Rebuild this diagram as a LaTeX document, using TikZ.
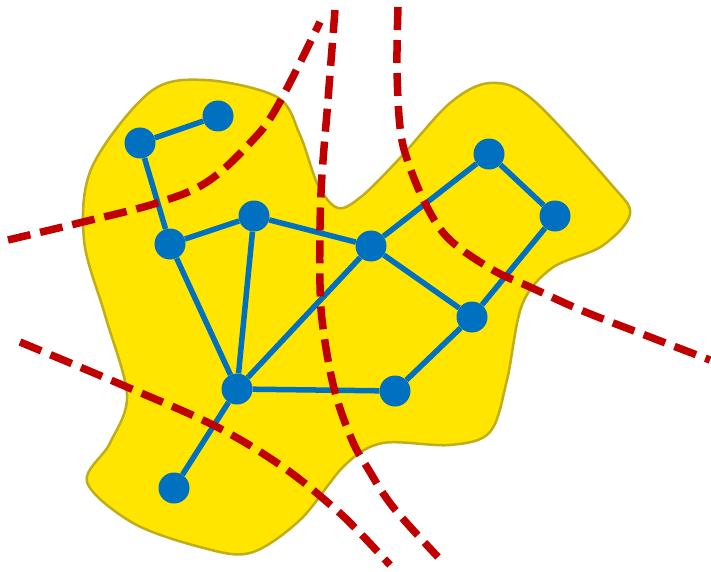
\documentclass[tikz,border=0pt]{standalone}
\usetikzlibrary{backgrounds}
\definecolor{blobfill}{HTML}{FFE500}
\definecolor{blobline}{HTML}{BFAE1A}
\definecolor{vblue}{HTML}{0070C0}
\definecolor{cutred}{HTML}{C00000}
\tikzset{
  blob/.style={fill=blobfill,draw=blobline,line width=2.5pt},
  vtx/.style={circle,fill=vblue,minimum size=31pt,inner sep=0pt},
  edge/.style={draw=vblue,line width=5.5pt},
  cut/.style={draw=cutred,line width=7.5pt,dash pattern=on 23pt off 10pt}
}
\begin{document}
\begin{tikzpicture}[x=1pt,y=-1pt]
\useasboundingbox (0,0) rectangle (711,572);
\node[vtx] (A) at (140,143) {};
\node[vtx] (B) at (218,116) {};
\node[vtx] (C) at (170,244) {};
\node[vtx] (D) at (254,216) {};
\node[vtx] (E) at (371,246) {};
\node[vtx] (F) at (489,154) {};
\node[vtx] (G) at (555,216) {};
\node[vtx] (H) at (472,317) {};
\node[vtx] (I) at (237,389) {};
\node[vtx] (J) at (395,391) {};
\node[vtx] (K) at (174,488) {};
\foreach \a/\b in {A/B,A/C,C/D,C/I,D/I,D/E,E/I,E/F,F/G,G/H,E/H,H/J,I/J,I/K}
  \draw[edge] (\a) -- (\b);
\begin{scope}[on background layer]
\draw[blob] plot[smooth cycle,tension=0.55] coordinates {
 (205,80) (277,97) (300,135) (318,185) (338,208) (362,196) (400,158)
 (450,103) (490,83) (532,99) (610,183) (630,214) (602,246)
 (552,268) (522,305) (507,380) (490,432) (450,445) (383,443) (345,465)
 (300,520) (250,553) (200,547) (133,523) (87,482) (110,443) (127,395)
 (105,315) (84,240) (92,167) (150,92)};
\end{scope}
\draw[cut] plot[smooth,tension=0.6] coordinates {(8,240) (83,222) (157,203) (207,182) (250,143) (277,107) (320,22)};
\draw[cut] plot[smooth,tension=0.6] coordinates {(335,10) (328,100) (321,193) (320,285) (324,335) (335,392) (352,440) (367,467) (393,507) (438,557)};
\draw[cut] plot[smooth,tension=0.6] coordinates {(398,7) (397,67) (400,127) (408,162) (427,207) (450,240) (493,270) (530,287) (583,311) (650,337) (710,360)};
\draw[cut] plot[smooth,tension=0.6] coordinates {(20,342) (127,387) (217,427) (283,467) (333,507) (360,533) (390,565)};
\end{tikzpicture}
\end{document}
